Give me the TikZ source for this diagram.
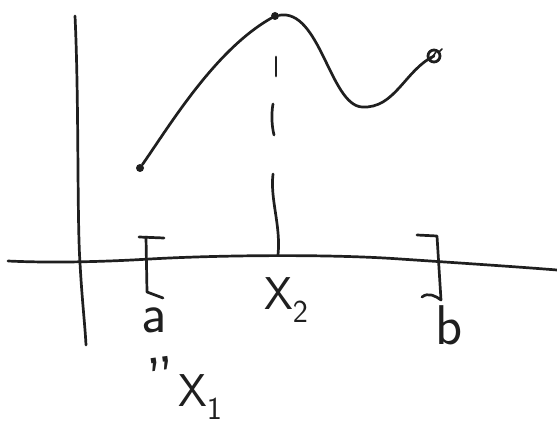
\documentclass[tikz,border=0pt]{standalone}
\usepackage{tikz}
\usetikzlibrary{positioning}
\tikzset{
  pen/.style={line width=2.7pt,line cap=round,line join=round,draw=black!88},
  dot/.style={circle,fill=black!88,inner sep=0pt,minimum size=8pt},
  hand/.style={font=\fontsize{56}{56}\sffamily,inner sep=0pt,text=black!88}
}
\newcommand{\handsub}[1]{\raisebox{-0.3em}{\fontsize{32}{32}\selectfont #1}}

\begin{document}
\begin{tikzpicture}[x=1pt,y=-1pt]
  \useasboundingbox (0,0) rectangle (557,425);
  % axes
  \draw[pen] (75,16) .. controls (79,100) and (77,220) .. (80,263)
    .. controls (82,300) and (85,325) .. (86,345);
  \draw[pen] (8,261) .. controls (50,263) and (100,262) .. (150,259)
    .. controls (220,255) and (330,254) .. (400,259)
    .. controls (460,263) and (520,267) .. (557,270);
  % the function
  \node[dot] (start) at (140,168) {};
  \node[dot] (peak) at (275,16) {};
  \coordinate (stop) at (434,56);
  \draw[pen] (start) .. controls (170,125) and (215,50) .. (peak)
    .. controls (320,8) and (330,105) .. (362,107)
    .. controls (395,109) and (405,70) .. (stop);
  \draw[pen,line width=2.8pt] (stop) circle (6pt);
  \draw[pen,line width=1.6pt] (431,59) -- (436,52) (439,52) -- (442,49);
  % dashed drop to x axis
  \draw[pen] (276,57) -- (276,76);
  \draw[pen] (273,104) .. controls (271,115) and (272,127) .. (274,135);
  \draw[pen] (273,174) .. controls (270,200) and (281,225) .. (278,255);
  % interval brackets
  \draw[pen] (139,237) -- (164,238) (146,237) -- (147,292) -- (163,298);
  \draw[pen] (417,235) -- (437,236) -- (441,300)
    .. controls (436,296) and (428,292) .. (422,297);
  % labels
  \node[hand] (a) at (154,320) {a};
  \node[hand,anchor=base west] (x2) at (264,309) {\fontsize{46}{46}\selectfont X\handsub{2}};
  \node[hand] (b) at (449,325) {b};
  \node[hand,font=\fontsize{64}{64}\sffamily,rotate=8] (eq) at (162,380) {\char"22};
  \node[hand,anchor=base west] (x1) at (178,406) {\fontsize{46}{46}\selectfont X\handsub{1}};
\end{tikzpicture}
\end{document}
